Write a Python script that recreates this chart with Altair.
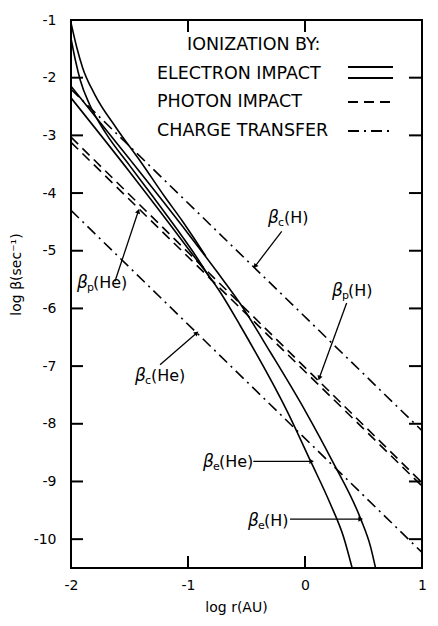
import math
import altair as alt
import pandas as pd

# ---------------- data ----------------
# Electron impact, beta_e(H): main branch
eH_x = [-2.0, -1.5, -1.0, -0.75, -0.553, -0.296, 0.003, 0.232, 0.474, 0.56, 0.603]
eH_y = [-2.15, -3.41, -4.70, -5.37, -5.92, -6.76, -7.78, -8.64, -9.64, -10.13, -10.5]
# Electron impact, beta_e(He): main branch
eHe_x = [-2.0, -1.5, -1.0, -0.724, -0.553, -0.153, 0.046, 0.217, 0.331, 0.403]
eHe_y = [-2.35, -3.63, -4.96, -5.72, -6.30, -7.78, -8.64, -9.39, -9.97, -10.5]
# Electron impact, inner (coronal) branches
eHc_x = [-2.0, -1.95, -1.9, -1.8, -1.61, -1.4, -1.2, -1.05, -0.95, -0.85]
eHc_y = [-1.05, -1.48, -1.83, -2.28, -2.88, -3.47, -4.06, -4.48, -4.78, -5.09]
eHec_x = [-2.0, -1.96, -1.92, -1.84, -1.7, -1.5, -1.3, -1.1, -0.95, -0.8]
eHec_y = [-1.32, -1.72, -2.05, -2.47, -2.97, -3.52, -4.06, -4.61, -5.04, -5.51]

# Photon impact (straight lines)
pH_x = [-2.0, 1.0]
pH_y = [-3.03, -9.02]
pHe_x = [-2.0, 1.0]
pHe_y = [-3.12, -9.08]

# Charge transfer (straight lines)
cH_x = [-2.0, 1.0]
cH_y = [-2.20, -8.12]
cHe_x = [-2.0, 1.0]
cHe_y = [-4.30, -10.23]

# Axis ticks
x_ticks = [-2, -1, 0, 1]
y_ticks = [-1, -2, -3, -4, -5, -6, -7, -8, -9, -10]
x_inner_ticks = [-1, 0]
y_inner_ticks = [-2, -3, -4, -5, -6, -7, -8, -9, -10]

# Curve labels (beta_sub(ion)) anchored in data space
lab_sub = ["c", "p", "p", "c", "e", "e"]
lab_ion = ["(H)", "(He)", "(H)", "(He)", "(He)", "(H)"]
lab_x = [-0.316, -1.949, 0.231, -1.453, -0.872, -0.487]
lab_y = [-4.433, -5.559, -5.698, -7.177, -8.663, -9.680]

# Arrows from labels to curves (start -> tip)
arr_x1 = [-0.199, -1.624, 0.356, -1.239, -0.442, -0.128]
arr_y1 = [-4.663, -5.530, -5.906, -6.976, -8.650, -9.651]
arr_x2 = [-0.427, -1.425, 0.122, -0.926, 0.057, 0.476]
arr_y2 = [-5.270, -4.316, -7.206, -6.426, -8.650, -9.651]

legend_title = "IONIZATION BY:"
legend_items = ["ELECTRON  IMPACT", "PHOTON  IMPACT", "CHARGE  TRANSFER"]

# ---------------- layout ----------------
W, H = 351, 548
FONT = "DejaVu Sans"
LW = 1.6

xs = alt.Scale(domain=[-2, 1], nice=False, zero=False)
ys = alt.Scale(domain=[-10.5, -1], nice=False, zero=False)

x_enc = alt.X("x:Q", scale=xs, axis=alt.Axis(
    values=x_ticks, labelExpr="'' + datum.value", labelFlush=False,
    ticks=False, domain=False, grid=False, labelPadding=10,
    title="log r(AU)", titleX=165, titleY=39, titleAlign="center",
    titleBaseline="middle"))
y_enc = alt.Y("y:Q", scale=ys, axis=alt.Axis(
    values=y_ticks, labelExpr="'' + datum.value", ticks=False, domain=False,
    grid=False, labelPadding=15, title="log β(sec⁻¹)", titleX=-55,
    titleY=254, titleAngle=270, titleAlign="center", titleBaseline="middle"))


def series_df(pairs):
    rows = []
    for name, xv, yv in pairs:
        for i, (a, b) in enumerate(zip(xv, yv)):
            rows.append({"s": name, "x": a, "y": b, "o": i})
    return pd.DataFrame(rows)


solid = series_df([("eH", eH_x, eH_y), ("eHe", eHe_x, eHe_y),
                   ("eHc", eHc_x, eHc_y), ("eHec", eHec_x, eHec_y)])
dashed = series_df([("pH", pH_x, pH_y), ("pHe", pHe_x, pHe_y)])
dashdot = series_df([("cH", cH_x, cH_y), ("cHe", cHe_x, cHe_y)])

DASH = [10, 6]
DASHDOT = [11, 5, 2, 5]

l_solid = alt.Chart(solid).mark_line(
    interpolate="monotone", color="black", strokeWidth=LW, clip=True
).encode(x=x_enc, y=y_enc, detail="s:N", order="o:Q")
l_dash = alt.Chart(dashed).mark_line(
    color="black", strokeWidth=LW, strokeDash=DASH, clip=True
).encode(x=x_enc, y=y_enc, detail="s:N", order="o:Q")
l_dashdot = alt.Chart(dashdot).mark_line(
    color="black", strokeWidth=LW, strokeDash=DASHDOT, clip=True
).encode(x=x_enc, y=y_enc, detail="s:N", order="o:Q")

# inward ticks on all four sides
tk_y = pd.DataFrame({"y": y_inner_ticks})
tk_x = pd.DataFrame({"x": x_inner_ticks})
TL = 12
t_left = alt.Chart(tk_y).mark_rule(color="black", strokeWidth=2).encode(
    y=y_enc, x=alt.value(0), x2=alt.value(TL))
t_right = alt.Chart(tk_y).mark_rule(color="black", strokeWidth=2).encode(
    y=y_enc, x=alt.value(W - TL - 1), x2=alt.value(W))
t_top = alt.Chart(tk_x).mark_rule(color="black", strokeWidth=2).encode(
    x=x_enc, y=alt.value(0), y2=alt.value(TL))
t_bot = alt.Chart(tk_x).mark_rule(color="black", strokeWidth=2).encode(
    x=x_enc, y=alt.value(H - TL), y2=alt.value(H))

# curve labels
labs = pd.DataFrame({"x": lab_x, "y": lab_y, "sub": lab_sub, "ion": lab_ion})
lab_beta = alt.Chart(labs).mark_text(
    align="left", baseline="middle", font=FONT, fontSize=17,
    fontStyle="italic", color="black", text="β"
).encode(x=x_enc, y=y_enc)
lab_s = alt.Chart(labs).mark_text(
    align="left", baseline="middle", font=FONT, fontSize=11,
    color="black", dx=10, dy=5
).encode(x=x_enc, y=y_enc, text="sub:N")
lab_i = alt.Chart(labs).mark_text(
    align="left", baseline="middle", font=FONT, fontSize=16,
    color="black", dx=16
).encode(x=x_enc, y=y_enc, text="ion:N")

# arrows
SX = W / 3.0
SY = H / 9.5
angs = []
for a1, b1, a2, b2 in zip(arr_x1, arr_y1, arr_x2, arr_y2):
    dxp = (a2 - a1) * SX
    dyp = -(b2 - b1) * SY
    angs.append(math.degrees(math.atan2(dxp, -dyp)) % 360)
arr = pd.DataFrame({"x": arr_x1, "y": arr_y1, "x2": arr_x2, "y2": arr_y2,
                    "ang": angs})
a_line = alt.Chart(arr).mark_rule(color="black", strokeWidth=1.3).encode(
    x=x_enc, y=y_enc, x2="x2:Q", y2="y2:Q")
a_head = alt.Chart(arr).mark_point(
    shape="triangle-up", filled=True, color="black", size=28, opacity=1
).encode(x=alt.X("x2:Q", scale=xs), y=alt.Y("y2:Q", scale=ys),
         angle=alt.Angle("ang:Q", scale=None))

# legend (drawn as text and sample lines)
one = pd.DataFrame({"t": [legend_title]})


def txt(t, px, py):
    return alt.Chart(pd.DataFrame({"t": [t]})).mark_text(
        align="left", baseline="middle", font=FONT, fontSize=17.5,
        color="black").encode(x=alt.value(px), y=alt.value(py), text="t:N")


def sample(py, dash=None):
    kw = dict(color="black", strokeWidth=2)
    if dash is not None:
        kw["strokeDash"] = dash
    return alt.Chart(one).mark_rule(**kw).encode(
        x=alt.value(277), x2=alt.value(322), y=alt.value(py))


leg = [
    txt(legend_title, 116, 25),
    txt(legend_items[0], 86, 54),
    txt(legend_items[1], 86, 82),
    txt(legend_items[2], 86, 111),
    sample(47), sample(58), sample(82, DASH), sample(111, DASHDOT),
]

chart = alt.layer(
    l_solid, l_dash, l_dashdot, t_left, t_right, t_top, t_bot,
    a_line, a_head, lab_beta, lab_s, lab_i, *leg
).properties(
    width=W, height=H,
    autosize=alt.AutoSizeParams(type="none"),
    padding={"left": 63, "top": 12, "right": 8, "bottom": 50},
).configure_view(
    stroke="black", strokeWidth=2
).configure_axis(
    labelFont=FONT, labelFontSize=14, labelColor="black",
    titleFont=FONT, titleFontSize=14, titleFontWeight="normal",
    titleColor="black"
)

chart.save("out.html", embed_options={"renderer": "svg", "actions": False})
